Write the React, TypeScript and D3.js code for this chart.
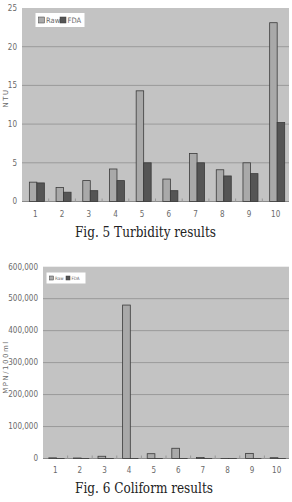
import React from "react";
import * as d3 from "d3";

const categories = ["1", "2", "3", "4", "5", "6", "7", "8", "9", "10"];
const series = ["Raw", "FDA"];
const turbidityRaw = [2.5, 1.8, 2.7, 4.2, 14.3, 2.9, 6.2, 4.1, 5.0, 23.1];
const turbidityFDA = [2.4, 1.2, 1.4, 2.7, 5.0, 1.4, 5.0, 3.3, 3.6, 10.2];
const turbidityTicks = [0, 5, 10, 15, 20, 25];
const coliformRaw = [2000, 1500, 7000, 480000, 15000, 32000, 3000, 300, 16000, 2500];
const coliformFDA = [20, 10, 30, 40, 20, 30, 10, 5, 20, 10];
const coliformTicks = [0, 100000, 200000, 300000, 400000, 500000, 600000];

const PLOT_BG = "#c3c3c3";
const GRID = "#9a9a9a";
const RAW_FILL = "#a9a9a9";
const FDA_FILL = "#555555";
const BAR_STROKE = "#3a3a3a";
const TEXT = "#6a6a6a";

type ChartProps = {
  raw: number[];
  fda: number[];
  ticks: number[];
  yMax: number;
  left: number;
  right: number;
  top: number;
  bottom: number;
  yLabel: string;
  yLabelY: number;
  tickFmt: (v: number) => string;
  caption: string;
  captionY: number;
  captionLen: number;
  labelY: number;
  legend: { x: number; y: number; w: number; h: number; fs: number; sw: number };
  outerPad: number;
};

function BarChart(p: ChartProps) {
  const x = d3.scaleBand<string>().domain(categories).range([p.left, p.right]).paddingInner(0).paddingOuter(0);
  const inner = d3
    .scaleBand<string>()
    .domain(series)
    .range([0, x.bandwidth()])
    .paddingInner(0)
    .paddingOuter(p.outerPad)
    .align(0.63);
  const y = d3.scaleLinear().domain([0, p.yMax]).range([p.bottom, p.top]);
  const data = [p.raw, p.fda];
  const fills = [RAW_FILL, FDA_FILL];
  return (
    <g>
      <rect x={p.left} y={p.top} width={p.right - p.left} height={p.bottom - p.top} fill={PLOT_BG} />
      {p.ticks.map((t) => (
        <g key={t}>
          {t > 0 && t < p.yMax && (
            <line x1={p.left} x2={p.right} y1={y(t)} y2={y(t)} stroke={GRID} strokeWidth={1} />
          )}
          <text
            x={p.left - 5}
            y={y(t)}
            dy="0.35em"
            textAnchor="end"
            fontSize={8}
            fill={TEXT}
            fontFamily="'DejaVu Sans Condensed', 'Liberation Sans Narrow', Arial, sans-serif"
          >
            {p.tickFmt(t)}
          </text>
        </g>
      ))}
      <line x1={p.left} x2={p.right} y1={p.bottom} y2={p.bottom} stroke="#8a8a8a" />
      {categories.map((c, i) =>
        i > 0 ? (
          <line key={"tk" + c} x1={x(c)!} x2={x(c)!} y1={p.bottom} y2={p.bottom - 3} stroke="#999" />
        ) : null
      )}
      {series.map((s, si) =>
        categories.map((c, i) => {
          const v = data[si][i];
          const bx = x(c)! + inner(s)!;
          return (
            <rect
              key={s + c}
              x={bx}
              y={y(v)}
              width={inner.bandwidth()}
              height={Math.max(0, p.bottom - y(v))}
              fill={fills[si]}
              stroke={BAR_STROKE}
              strokeWidth={0.8}
            />
          );
        })
      )}
      {categories.map((c) => (
        <text
          key={"l" + c}
          x={x(c)! + x.bandwidth() / 2}
          y={p.labelY}
          textAnchor="middle"
          fontSize={8}
          fill={TEXT}
          fontFamily="'DejaVu Sans Condensed', 'Liberation Sans Narrow', Arial, sans-serif"
        >
          {c}
        </text>
      ))}
      <text
        transform={`translate(8,${p.yLabelY}) rotate(-90)`}
        textAnchor="middle"
        fontSize={7}
        letterSpacing={1.5}
        fill={TEXT}
        fontFamily="'DejaVu Sans', Arial, sans-serif"
      >
        {p.yLabel}
      </text>
      <g>
        <rect x={p.legend.x} y={p.legend.y} width={p.legend.w} height={p.legend.h} fill="#ffffff" />
        {series.map((s, si) => {
          const lx = p.legend.x + 3 + si * (p.legend.w - 6) / 2;
          const cy = p.legend.y + p.legend.h / 2;
          return (
            <g key={"lg" + s}>
              <rect
                x={lx}
                y={cy - p.legend.sw / 2}
                width={p.legend.sw}
                height={p.legend.sw}
                fill={fills[si]}
                stroke={BAR_STROKE}
                strokeWidth={0.5}
              />
              <text
                x={lx + p.legend.sw + 1.5}
                y={cy}
                dy="0.35em"
                fontSize={p.legend.fs}
                fill={TEXT}
                fontFamily="'DejaVu Sans Condensed', Arial, sans-serif"
              >
                {s}
              </text>
            </g>
          );
        })}
      </g>
      <text
        x={75}
        y={p.captionY}
        fontSize={15.5}
        fill="#222"
        textLength={p.captionLen}
        lengthAdjust="spacingAndGlyphs"
        fontFamily="'DejaVu Serif', 'Liberation Serif', serif"
      >
        {p.caption}
      </text>
    </g>
  );
}

export default function App() {
  const fmt = d3.format(",");
  return (
    <svg
      width={292}
      height={502}
      style={{ position: "absolute", left: 0, top: 0, background: "#fff" }}
    >
      <BarChart
        raw={turbidityRaw}
        fda={turbidityFDA}
        ticks={turbidityTicks}
        yMax={25}
        left={22}
        right={289}
        top={8}
        bottom={201.5}
        yLabel="NTU"
        yLabelY={98}
        tickFmt={(v) => String(v)}
        caption="Fig. 5 Turbidity results"
        captionY={237}
        captionLen={141}
        labelY={217}
        legend={{ x: 35.5, y: 13, w: 49, h: 14, fs: 7.5, sw: 6 }}
        outerPad={0.78}
      />
      <BarChart
        raw={coliformRaw}
        fda={coliformFDA}
        ticks={coliformTicks}
        yMax={600000}
        left={43}
        right={289}
        top={266.7}
        bottom={458.5}
        yLabel="MPN/100ml"
        yLabelY={367}
        tickFmt={(v) => fmt(v)}
        caption="Fig. 6 Coliform results"
        captionY={493}
        captionLen={138}
        labelY={473}
        legend={{ x: 46.5, y: 272.5, w: 39, h: 11, fs: 4.5, sw: 4 }}
        outerPad={0.6}
      />
    </svg>
  );
}
